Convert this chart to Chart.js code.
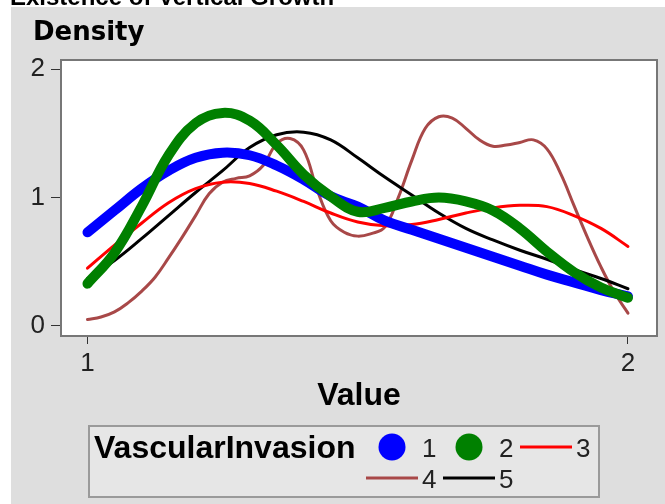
<!DOCTYPE html>
<html>
<head>
<meta charset="utf-8">
<script src="https://cdn.jsdelivr.net/npm/chart.js@4.4.1/dist/chart.umd.min.js"></script>
<style>
  html, body { margin: 0; padding: 0; background: #ffffff; }
  canvas { display: block; }
</style>
</head>
<body>
<canvas id="chart" width="665" height="504"></canvas>
<script>
// Kernel density estimates of Value for each VascularInvasion group.
const xCoarse = [1.00, 1.05, 1.10, 1.15, 1.20, 1.25, 1.30, 1.35, 1.40, 1.45, 1.50,
                 1.55, 1.60, 1.65, 1.70, 1.75, 1.80, 1.85, 1.90, 1.95, 2.00];
const xFine = [1.000, 1.025, 1.050, 1.075, 1.100, 1.125, 1.150, 1.175, 1.200, 1.225,
               1.250, 1.275, 1.300, 1.325, 1.350, 1.375, 1.400, 1.425, 1.450, 1.475,
               1.500, 1.525, 1.550, 1.575, 1.600, 1.625, 1.650, 1.675, 1.700, 1.725,
               1.750, 1.775, 1.800, 1.825, 1.850, 1.875, 1.900, 1.925, 1.950, 1.975, 2.000];

const density1 = [0.73, 0.90, 1.07, 1.21, 1.31, 1.35, 1.33, 1.25, 1.14, 1.01, 0.93,
                  0.82, 0.75, 0.68, 0.61, 0.54, 0.47, 0.40, 0.34, 0.28, 0.23];
const density2 = [0.33, 0.57, 0.93, 1.33, 1.58, 1.66, 1.60, 1.41, 1.18, 1.01, 0.89,
                  0.92, 0.97, 1.00, 0.97, 0.90, 0.76, 0.58, 0.42, 0.30, 0.22];
const density3 = [0.45, 0.63, 0.80, 0.96, 1.07, 1.12, 1.11, 1.05, 0.97, 0.88, 0.81,
                  0.78, 0.79, 0.83, 0.88, 0.92, 0.94, 0.93, 0.86, 0.76, 0.62];
const density4 = [0.05, 0.07, 0.11, 0.18, 0.27, 0.38, 0.53, 0.69, 0.86, 1.03,
                  1.12, 1.15, 1.17, 1.25, 1.42, 1.46, 1.37, 1.06, 0.82, 0.73,
                  0.70, 0.72, 0.77, 1.00, 1.29, 1.54, 1.63, 1.62, 1.54, 1.45,
                  1.40, 1.41, 1.43, 1.45, 1.38, 1.19, 0.94, 0.69, 0.46, 0.26, 0.10];
const density5 = [0.37, 0.51, 0.68, 0.86, 1.04, 1.21, 1.39, 1.49, 1.51, 1.45, 1.31,
                  1.16, 1.02, 0.88, 0.76, 0.67, 0.59, 0.52, 0.44, 0.37, 0.29];

const groupLabels = ['1', '2', '3', '4', '5'];
const xTickValues = [1, 2];
const yTickValues = [0, 1, 2];

const chartTitle = 'Existence of Vertical Growth';
const yAxisLabel = 'Density';
const xAxisLabel = 'Value';
const legendTitle = 'VascularInvasion';

const toPoints = (xs, ys) => xs.map((x, i) => ({ x: x, y: ys[i] }));

const FONT = '"Liberation Sans", Arial, sans-serif';

// Page backdrop: white margin, grey panel, white plot area.
const backdrop = {
  id: 'backdrop',
  beforeDraw(chart) {
    const { ctx, chartArea: a } = chart;
    ctx.save();
    ctx.fillStyle = '#ffffff';
    ctx.fillRect(0, 0, chart.width, chart.height);
    ctx.fillStyle = '#dedede';
    ctx.fillRect(11, 7, chart.width - 11, chart.height - 7);
    ctx.fillStyle = '#ffffff';
    ctx.fillRect(a.left, a.top, a.right - a.left, a.bottom - a.top);
    ctx.restore();
  }
};

// Frame around the plot, header texts and the group legend.
const decorations = {
  id: 'decorations',
  afterDraw(chart) {
    const { ctx, chartArea: a } = chart;
    ctx.save();

    ctx.strokeStyle = '#777777';
    ctx.lineWidth = 2;
    ctx.strokeRect(a.left, a.top, a.right - a.left, a.bottom - a.top);

    ctx.fillStyle = '#000000';
    ctx.textAlign = 'left';
    ctx.textBaseline = 'alphabetic';
    ctx.font = 'bold 24px ' + FONT;
    ctx.fillText(chartTitle, 10, 5);

    ctx.font = 'bold 26px "DejaVu Sans", sans-serif';
    ctx.fillText(yAxisLabel, 33, 40);

    // legend box
    ctx.fillStyle = '#e6e6e6';
    ctx.fillRect(89, 426, 510, 71);
    ctx.strokeStyle = '#9a9a9a';
    ctx.lineWidth = 2;
    ctx.strokeRect(89, 426, 510, 71);

    ctx.fillStyle = '#000000';
    ctx.font = 'bold 32px ' + FONT;
    ctx.fillText(legendTitle, 94, 458);

    const slots = [
      { x: 366, y: 447 }, { x: 443, y: 447 }, { x: 520, y: 447 },
      { x: 366, y: 478 }, { x: 443, y: 478 }
    ];
    const symbolWidth = 52;
    ctx.font = '26px ' + FONT;
    chart.data.datasets.forEach((ds, i) => {
      const s = slots[i];
      if (ds.legendMarker === 'circle') {
        ctx.fillStyle = ds.borderColor;
        ctx.beginPath();
        ctx.arc(s.x + symbolWidth / 2, s.y, 13.5, 0, Math.PI * 2);
        ctx.fill();
      } else {
        ctx.strokeStyle = ds.borderColor;
        ctx.lineWidth = 3;
        ctx.beginPath();
        ctx.moveTo(s.x, s.y);
        ctx.lineTo(s.x + symbolWidth, s.y);
        ctx.stroke();
      }
      ctx.fillStyle = '#222222';
      ctx.fillText(ds.label, s.x + symbolWidth + 4, s.y + 10);
    });

    ctx.restore();
  }
};

const seriesStyle = [
  { color: '#0000ff', width: 10, marker: 'circle', order: 1 },
  { color: '#008000', width: 10, marker: 'circle', order: 0 },
  { color: '#ff0000', width: 3,  marker: 'line',   order: 2 },
  { color: '#a84848', width: 3,  marker: 'line',   order: 4 },
  { color: '#000000', width: 3,  marker: 'line',   order: 3 }
];
const seriesData = [
  toPoints(xCoarse, density1),
  toPoints(xCoarse, density2),
  toPoints(xCoarse, density3),
  toPoints(xFine, density4),
  toPoints(xCoarse, density5)
];

new Chart(document.getElementById('chart'), {
  type: 'line',
  data: {
    datasets: groupLabels.map((label, i) => ({
      label: label,
      data: seriesData[i],
      borderColor: seriesStyle[i].color,
      borderWidth: seriesStyle[i].width,
      borderCapStyle: 'round',
      borderJoinStyle: 'round',
      legendMarker: seriesStyle[i].marker,
      order: seriesStyle[i].order,
      fill: false,
      pointRadius: 0,
      tension: 0.4
    }))
  },
  options: {
    responsive: false,
    animation: false,
    devicePixelRatio: 1,
    layout: { padding: { left: 0, top: 60, right: 8, bottom: 0 } },
    plugins: {
      legend: { display: false },
      tooltip: { enabled: false },
      title: { display: false }
    },
    scales: {
      x: {
        type: 'linear',
        min: 0.951,
        max: 2.0537,
        afterBuildTicks: s => { s.ticks = xTickValues.map(v => ({ value: v })); },
        afterFit: s => { s.height = 168; },
        grid: { display: true, drawOnChartArea: false, drawTicks: true, tickLength: 8, color: '#333333', lineWidth: 1 },
        border: { display: false },
        ticks: { font: { family: FONT, size: 26 }, color: '#222222', padding: 4, maxRotation: 0, autoSkip: false },
        title: {
          display: true, text: xAxisLabel, color: '#000000',
          font: { family: FONT, size: 32, weight: 'bold' },
          padding: { top: 0, bottom: 89 }
        }
      },
      y: {
        type: 'linear',
        min: -0.078,
        max: 2.072,
        afterBuildTicks: s => { s.ticks = yTickValues.map(v => ({ value: v })); },
        afterFit: s => { s.width = 61; },
        grid: { display: true, drawOnChartArea: false, drawTicks: true, tickLength: 10, color: '#333333', lineWidth: 1 },
        border: { display: false },
        ticks: { font: { family: FONT, size: 26 }, color: '#222222', padding: 6, autoSkip: false }
      }
    }
  },
  plugins: [backdrop, decorations]
});
</script>
</body>
</html>
